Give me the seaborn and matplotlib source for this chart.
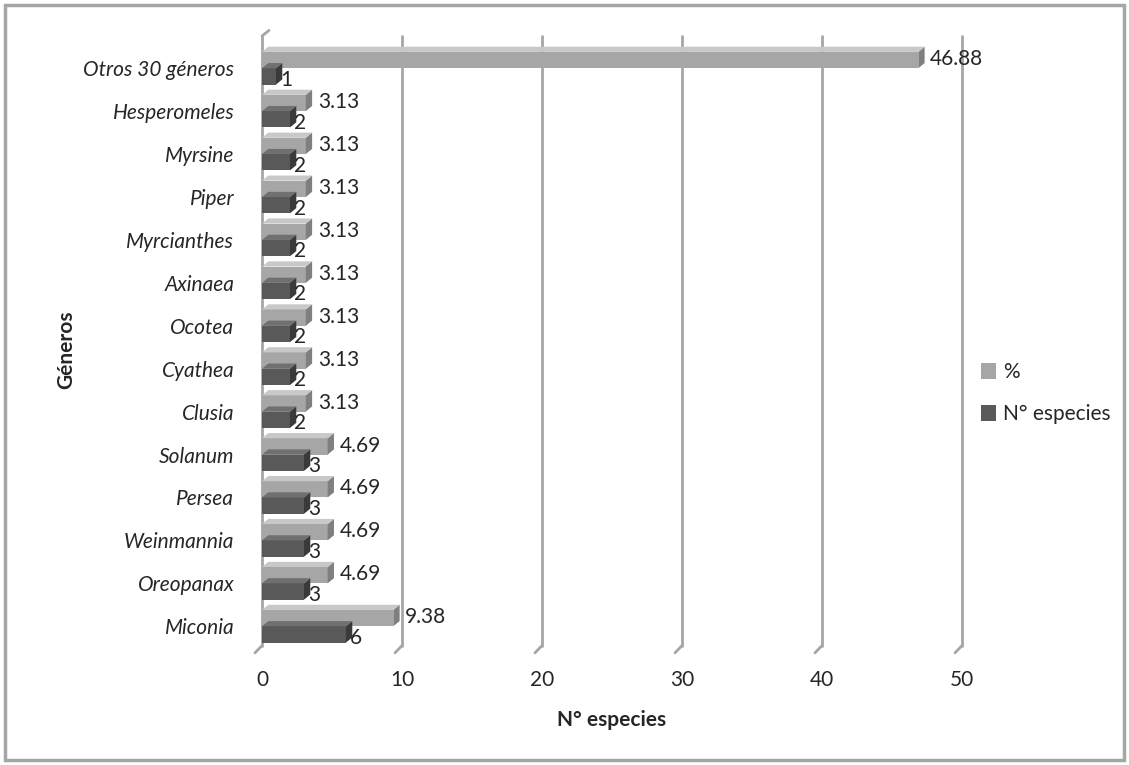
import numpy as np
import pandas as pd
import seaborn as sns
import matplotlib.pyplot as plt
from matplotlib.patches import Polygon, Rectangle

generos = ["Otros 30 géneros", "Hesperomeles", "Myrsine", "Piper", "Myrcianthes",
           "Axinaea", "Ocotea", "Cyathea", "Clusia", "Solanum", "Persea",
           "Weinmannia", "Oreopanax", "Miconia"]
porcentaje = [46.88, 3.13, 3.13, 3.13, 3.13, 3.13, 3.13, 3.13, 3.13,
              4.69, 4.69, 4.69, 4.69, 9.38]
n_especies = [1, 2, 2, 2, 2, 2, 2, 2, 2, 3, 3, 3, 3, 6]
series = ["%", "N° especies"]
x_ticks = [0, 10, 20, 30, 40, 50]

df = pd.DataFrame({
    "Géneros": generos * 2,
    "valor": porcentaje + n_especies,
    "serie": [series[0]] * len(generos) + [series[1]] * len(generos),
})

sns.set_theme(style="white")
plt.rcParams["font.family"] = ["Lato", "DejaVu Sans"]

FS = 15
TXT = "#262626"
GRID = "#A6A6A6"

fig = plt.figure(figsize=(11.29, 7.65), dpi=100)
ax = fig.add_axes([262 / 1129, 1 - 652 / 765, 700 / 1129, (652 - 36) / 765])

colors = {"%": "#A6A6A6", "N° especies": "#595959"}
sns.barplot(data=df, y="Géneros", x="valor", hue="serie", hue_order=series,
            order=generos, palette=colors, orient="h", width=0.76,
            dodge=True, ax=ax, saturation=1, edgecolor="none", legend=True)

ax.set_xlim(0, 50)
ax.set_xticks(x_ticks)
ax.grid(False)
for t in x_ticks:
    ax.plot([t, t], [13.45, -0.75], color=GRID, lw=2, zorder=0, clip_on=False)
    ax.plot([t, t - 0.5], [13.45, 13.62], color=GRID, lw=2, zorder=0, clip_on=False)
ax.plot([0, 0.5], [-0.75, -0.88], color=GRID, lw=2, zorder=0, clip_on=False)
ax.set_ylim(13.6, -0.75)
for s in ax.spines.values():
    s.set_visible(False)

# 3D side and top faces plus value labels, derived from the drawn bars
ser_vals = {series[0]: porcentaje, series[1]: n_especies}
for cont, ser in zip(ax.containers, series):
    vals = ser_vals[ser]
    for p, v in zip(cont, vals):
        p.set_clip_on(False)
        x0, y0 = p.get_x(), p.get_y()
        w, h = p.get_width(), p.get_height()
        dx = 0.45
        dy = 0.12
        col = "#7F7F7F" if ser == "%" else "#3A3A3A"
        poly = Polygon([[x0 + w, y0 + h], [x0 + w + dx, y0 + h - dy],
                        [x0 + w + dx, y0 - dy], [x0 + w, y0]],
                       closed=True, facecolor=col, edgecolor="none", zorder=3,
                       clip_on=False)
        ax.add_patch(poly)
        top = Polygon([[x0, y0], [x0 + w, y0], [x0 + w + dx, y0 - dy], [x0 + dx, y0 - dy]],
                      closed=True, facecolor="#C8C8C8" if ser == "%" else "#707070",
                      edgecolor="none", zorder=3, clip_on=False)
        ax.add_patch(top)
        lab = f"{v:.2f}" if ser == "%" else f"{v:g}"
        if ser == "%":
            ax.text(x0 + w + 0.85, y0 + h / 2 - 0.02, lab, va="center", ha="left",
                    fontsize=FS, color=TXT, clip_on=False)
        else:
            ax.text(x0 + w + 0.3, y0 + h / 2 + 0.08, lab, va="center", ha="left",
                    fontsize=FS, color=TXT, clip_on=False)

ax.tick_params(axis="y", length=0, pad=20, labelsize=FS)
ax.tick_params(axis="x", length=0, pad=13, labelsize=FS)
for lbl in ax.get_yticklabels():
    lbl.set_fontstyle("italic")
    lbl.set_color(TXT)
for lbl in ax.get_xticklabels():
    lbl.set_color(TXT)

ax.set_xlabel("N° especies", fontsize=FS, fontweight="bold", color=TXT)
ax.xaxis.set_label_coords(0.5, -0.094)
ax.set_ylabel("Géneros", fontsize=FS, fontweight="bold", color=TXT)
ax.yaxis.set_label_coords(-0.266, 0.49)

leg = ax.legend(loc="center left", bbox_to_anchor=(1.0, 0.42), frameon=False,
                fontsize=15, handlelength=0.75, handleheight=0.75, labelspacing=1.05,
                handletextpad=0.3)
for txt in leg.get_texts():
    txt.set_color(TXT)

# outer frame
fig.patches.append(Rectangle((5 / 1129, 5 / 765), 1 - 10 / 1129, 1 - 10 / 765,
                             transform=fig.transFigure, fill=False,
                             edgecolor="#A6A6A6", lw=2.5))

fig.savefig("out.png", dpi=100)
